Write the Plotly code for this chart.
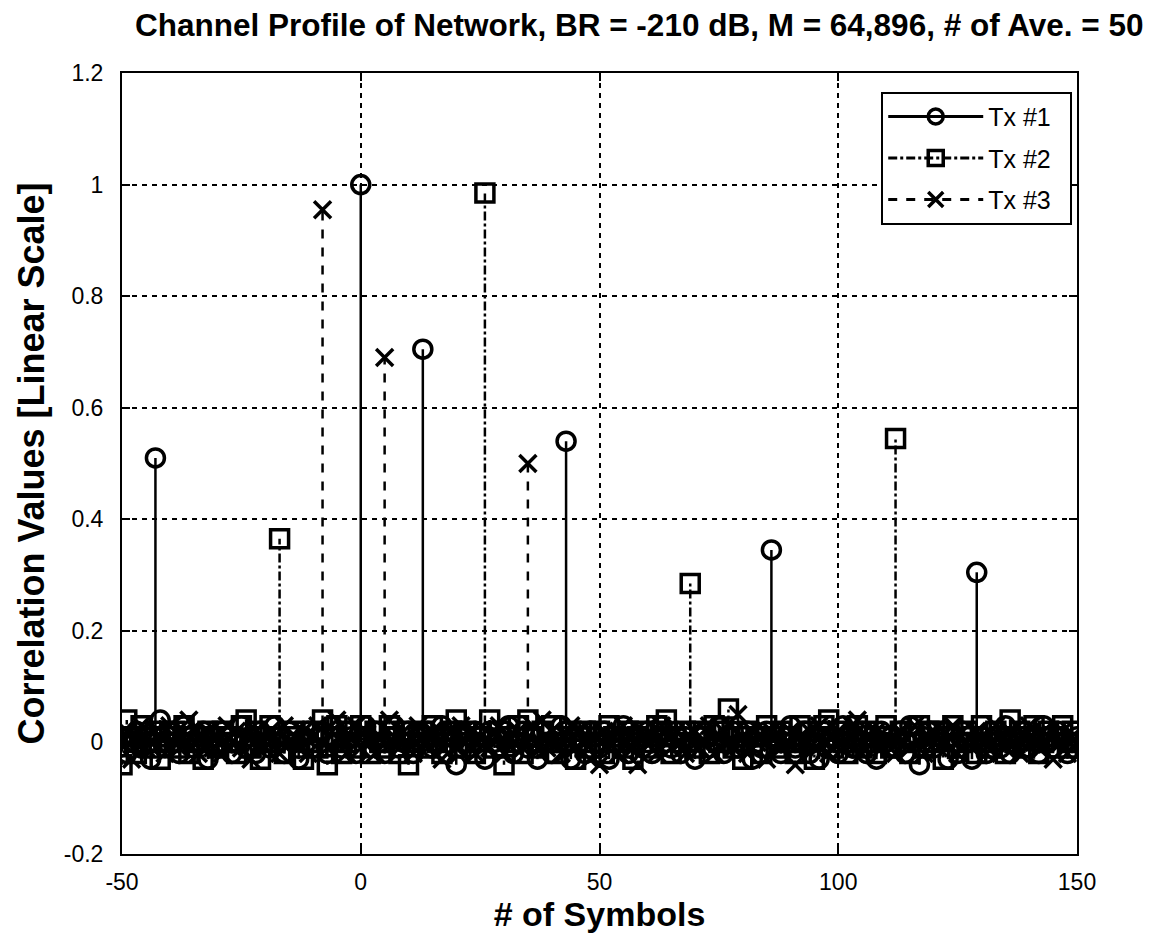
import plotly.graph_objects as go

# ---------------- data ----------------
symbols = list(range(-50, 151))

tx1_values = [
    0.01, -0.02, 0.00, 0.02, -0.01, 0.01, -0.03, 0.51, 0.04, -0.01,
    0.02, 0.00, -0.02, 0.03, 0.01, -0.01, 0.00, 0.02, -0.03, 0.01,
    -0.01, 0.02, 0.01, -0.02, 0.00, 0.03, -0.01, 0.01, -0.02, 0.02,
    0.00, -0.01, 0.03, 0.01, -0.02, 0.02, 0.00, -0.03, 0.01, 0.02,
    -0.01, 0.01, 0.02, -0.02, 0.03, 0.00, -0.01, 0.02, 0.01, -0.02,
    1.00, 0.03, -0.01, 0.02, 0.00, -0.02, 0.01, 0.03, -0.01, 0.00,
    0.02, -0.02, 0.01, 0.705, 0.02, -0.01, 0.00, 0.03, -0.02, 0.01,
    -0.04, 0.02, 0.00, -0.01, 0.02, 0.01, -0.03, 0.02, 0.00, -0.01,
    0.01, 0.03, -0.02, 0.00, 0.02, -0.01, 0.01, -0.03, 0.02, 0.00,
    -0.02, 0.01, 0.03, 0.54, -0.03, 0.01, 0.00, -0.02, 0.02, 0.01,
    -0.01, 0.02, -0.03, 0.00, 0.01, 0.03, -0.02, 0.01, 0.00, -0.01,
    0.02, -0.02, 0.01, 0.03, 0.00, -0.01, 0.02, -0.02, 0.01, 0.00,
    -0.03, 0.01, 0.02, -0.01, 0.00, 0.03, -0.02, 0.01, 0.02, -0.01,
    0.00, 0.02, -0.03, 0.01, -0.01, 0.02, 0.345, 0.00, -0.02, 0.01,
    0.03, -0.01, 0.00, 0.02, -0.02, 0.01, -0.03, 0.02, 0.00, 0.01,
    -0.02, 0.03, 0.01, -0.01, 0.00, 0.02, -0.02, 0.01, -0.03, 0.02,
    0.00, 0.01, -0.01, 0.02, -0.02, 0.03, 0.00, -0.04, 0.01, 0.02,
    -0.01, 0.00, 0.02, -0.03, 0.01, -0.02, 0.02, 0.00, -0.03, 0.305,
    0.01, -0.02, 0.02, 0.00, -0.01, 0.03, -0.02, 0.01, 0.00, 0.02,
    -0.01, 0.01, -0.02, 0.03, 0.00, -0.01, 0.02, 0.01, -0.02, 0.00,
    0.01,
]

tx2_values = [
    -0.04, 0.04, 0.01, -0.02, 0.03, 0.00, -0.01, 0.02, -0.03, 0.01,
    0.00, 0.02, -0.01, 0.03, -0.02, 0.01, 0.00, -0.03, 0.02, 0.01,
    -0.01, 0.02, 0.00, 0.01, -0.02, 0.03, 0.04, -0.01, 0.02, -0.03,
    0.01, 0.03, 0.00, 0.365, -0.02, 0.01, 0.02, -0.01, -0.03, 0.00,
    0.02, -0.01, 0.04, -0.04, 0.01, 0.03, -0.02, 0.00, 0.02, -0.01,
    0.03, 0.01, -0.02, 0.02, 0.00, -0.01, 0.03, 0.01, -0.02, 0.02,
    -0.04, 0.00, 0.01, 0.02, -0.01, 0.03, 0.00, -0.02, 0.01, 0.02,
    0.04, -0.01, 0.02, 0.00, -0.02, 0.01, 0.985, 0.04, -0.01, 0.02,
    -0.04, 0.01, 0.00, 0.03, -0.02, 0.04, 0.01, -0.01, 0.02, 0.00,
    0.03, -0.02, 0.01, 0.00, 0.02, -0.03, 0.01, 0.02, -0.01, 0.00,
    0.02, -0.02, 0.03, 0.01, 0.00, -0.01, 0.02, -0.03, 0.01, 0.02,
    0.00, -0.01, 0.03, 0.02, 0.04, -0.02, 0.01, 0.00, 0.02, 0.285,
    -0.01, 0.02, 0.01, -0.02, 0.03, 0.00, 0.02, 0.06, -0.01, 0.01,
    -0.03, 0.02, 0.00, 0.01, -0.02, 0.03, 0.01, -0.01, 0.02, 0.00,
    0.01, -0.02, 0.03, 0.00, 0.02, -0.03, 0.01, 0.03, 0.04, -0.01,
    0.02, 0.00, -0.02, 0.01, 0.03, -0.01, 0.02, 0.00, -0.02, 0.01,
    0.03, -0.01, 0.545, 0.02, 0.00, -0.02, 0.01, 0.03, -0.01, 0.02,
    0.00, 0.02, -0.03, 0.01, 0.03, -0.01, 0.00, 0.02, 0.01, -0.02,
    0.03, 0.00, -0.01, 0.02, 0.01, -0.02, 0.04, 0.00, 0.02, -0.01,
    0.01, 0.03, -0.02, 0.00, 0.02, 0.01, -0.01, 0.03, 0.00, 0.02,
    -0.01,
]

tx3_values = [
    0.00, 0.02, -0.03, 0.01, 0.03, -0.01, 0.00, 0.02, 0.01, -0.02,
    0.03, 0.01, -0.01, 0.02, 0.04, 0.00, -0.02, 0.01, 0.02, -0.01,
    0.01, -0.02, 0.03, 0.00, 0.02, -0.01, 0.01, -0.03, 0.02, 0.00,
    -0.01, 0.02, 0.01, -0.02, 0.03, 0.00, 0.01, -0.01, 0.02, -0.02,
    0.01, 0.03, 0.955, -0.01, 0.02, 0.04, 0.00, -0.02, 0.01, 0.03,
    -0.01, 0.02, 0.00, -0.02, 0.01, 0.69, 0.04, 0.01, -0.01, 0.02,
    0.00, -0.02, 0.03, 0.01, -0.01, 0.02, 0.00, -0.03, 0.01, 0.02,
    -0.01, 0.03, 0.00, 0.02, -0.02, 0.01, 0.00, -0.01, 0.02, 0.03,
    -0.02, 0.01, 0.00, 0.02, -0.01, 0.50, 0.03, 0.00, 0.04, -0.01,
    0.02, 0.00, -0.02, 0.01, 0.03, -0.01, 0.02, 0.00, -0.03, 0.01,
    -0.04, 0.02, 0.00, 0.01, -0.02, 0.03, 0.01, -0.01, -0.04, 0.02,
    0.00, 0.01, -0.02, 0.03, 0.01, -0.01, 0.02, 0.00, -0.02, 0.01,
    0.02, -0.01, 0.00, 0.03, -0.02, 0.01, 0.02, 0.00, -0.01, 0.05,
    0.01, -0.02, 0.02, 0.00, 0.01, -0.03, 0.02, 0.01, -0.01, 0.00,
    0.02, -0.04, 0.01, 0.00, 0.02, -0.01, 0.03, 0.00, -0.02, 0.01,
    0.02, -0.01, 0.00, 0.03, 0.04, -0.02, 0.01, 0.00, 0.02, -0.01,
    0.01, 0.00, -0.02, 0.02, 0.01, -0.01, 0.03, 0.00, -0.02, 0.01,
    0.02, -0.01, 0.00, 0.01, 0.03, -0.02, 0.02, 0.00, -0.01, 0.02,
    0.01, -0.02, 0.00, 0.03, 0.01, -0.01, 0.02, 0.00, -0.02, 0.01,
    0.03, 0.00, -0.01, 0.02, 0.01, -0.03, 0.00, 0.02, -0.02, 0.01,
    0.00,
]

series_names = ["Tx #1", "Tx #2", "Tx #3"]
x_ticks = [-50, 0, 50, 100, 150]
x_tick_text = ["-50", "0", "50", "100", "150"]
y_ticks = [-0.2, 0, 0.2, 0.4, 0.6, 0.8, 1, 1.2]
y_tick_text = ["-0.2", "0", "0.2", "0.4", "0.6", "0.8", "1", "1.2"]

# ---------------- styles ----------------
styles = [
    dict(dash="solid", symbol="circle-open", size=18),
    dict(dash="dashdot", symbol="square-open", size=18),
    dict(dash="dash", symbol="x-thin-open", size=17),
]

FONT = "Liberation Sans, Arial, sans-serif"

fig = go.Figure()

for name, vals, st in zip(series_names, [tx1_values, tx2_values, tx3_values], styles):
    sx, sy = [], []
    for xv, yv in zip(symbols, vals):
        sx += [xv, xv, None]
        sy += [0, yv, None]
    # stems
    fig.add_trace(go.Scatter(
        x=sx, y=sy, mode="lines",
        line=dict(color="black", width=2.5, dash=st["dash"]),
        showlegend=False, hoverinfo="skip",
    ))
    # markers
    fig.add_trace(go.Scatter(
        x=symbols, y=vals, mode="markers",
        marker=dict(symbol=st["symbol"], size=st["size"], color="black",
                    line=dict(color="black", width=3.5)),
        showlegend=False, name=name,
    ))
    # legend entry
    fig.add_trace(go.Scatter(
        x=[None], y=[None], mode="lines+markers",
        name=name + "\u00a0\u00a0", legendgroup=name,
        line=dict(color="black", width=3, dash=st["dash"]),
        marker=dict(symbol=st["symbol"], size=15, color="black",
                    line=dict(color="black", width=3.5)),
    ))

axis_common = dict(
    showline=True, linecolor="black", linewidth=2, mirror="ticks",
    ticks="inside", ticklen=8, tickcolor="black", tickwidth=2,
    showgrid=True, gridcolor="black", gridwidth=1.5, griddash="5px,5px",
    zeroline=False,
    tickfont=dict(family=FONT, size=23, color="black"),
)

fig.update_layout(
    width=1154, height=946,
    paper_bgcolor="white", plot_bgcolor="white",
    margin=dict(l=114, r=85, t=65, b=100),
    title=dict(
        text="<b>Channel Profile of Network, BR = -210 dB, M = 64,896, # of Ave. = 50</b>",
        x=0.547, xanchor="center", y=0.982, yanchor="middle",
        font=dict(family=FONT, size=31.5, color="black"),
    ),
    xaxis=dict(
        range=[-50, 150], tickvals=x_ticks, ticktext=x_tick_text,
        ticklabelstandoff=6,
        title=dict(text="<b># of Symbols</b>", font=dict(family=FONT, size=34, color="black"), standoff=2),
        **axis_common,
    ),
    yaxis=dict(
        range=[-0.2, 1.2], tickvals=y_ticks, ticktext=y_tick_text,
        ticklabelstandoff=12,
        title=dict(text="<b>Correlation Values [Linear Scale]</b>", font=dict(family=FONT, size=36, color="black"), standoff=8),
        **axis_common,
    ),
    legend=dict(
        x=0.995, xanchor="right", y=0.976, yanchor="top",
        bgcolor="white", bordercolor="black", borderwidth=2,
        font=dict(family=FONT, size=25, color="black"),
        itemwidth=95, traceorder="grouped", tracegroupgap=6,
    ),
    showlegend=True,
)

fig.write_html("out.html")
